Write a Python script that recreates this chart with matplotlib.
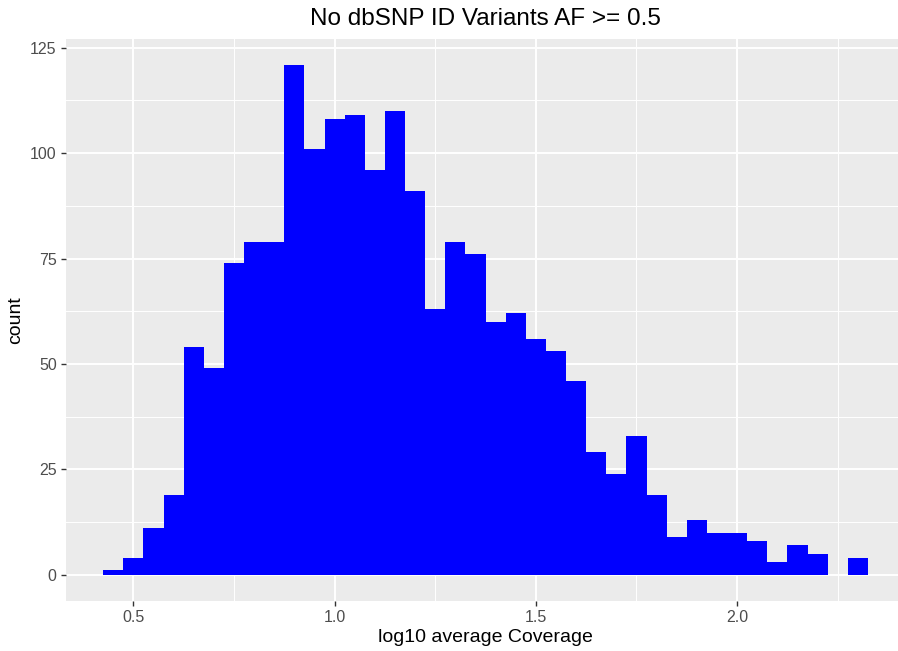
import matplotlib
matplotlib.use("Agg")
import matplotlib.pyplot as plt
import numpy as np

plt.rcParams['font.family'] = ['Liberation Sans', 'DejaVu Sans']

# Histogram data (binwidth 0.05, first edge 0.425)
bin_start = 0.425
bin_width = 0.05
counts = [1, 4, 11, 19, 54, 49, 74, 79, 79, 121, 101, 108, 109, 96, 110, 91,
          63, 79, 76, 60, 62, 56, 53, 46, 29, 24, 33, 19, 9, 13, 10, 10, 8, 3,
          7, 5, 0, 4]
x_ticks = [0.5, 1.0, 1.5, 2.0]
x_tick_labels = ["0.5", "1.0", "1.5", "2.0"]
y_ticks = [0, 25, 50, 75, 100, 125]
title = "No dbSNP ID Variants AF >= 0.5"
xlabel = "log10 average Coverage"
ylabel = "count"

W, H = 898, 651
fig = plt.figure(figsize=(W / 100, H / 100), dpi=100)
left, right, top, bottom = 65.7, 898, 38.5, 600.7
ax = fig.add_axes([left / W, 1 - bottom / H, (right - left) / W, (bottom - top) / H])

edges = bin_start + bin_width * np.arange(len(counts) + 1)
ax.bar(edges[:-1], counts, width=bin_width, align='edge', color='#0000FF',
       linewidth=0, zorder=3)

ax.set_facecolor('#EBEBEB')
for s in ax.spines.values():
    s.set_visible(False)

ax.set_xticks(x_ticks)
ax.set_xticklabels(x_tick_labels)
ax.set_yticks(y_ticks)
ax.set_xticks([0.75, 1.25, 1.75, 2.25], minor=True)
ax.set_yticks([12.5, 37.5, 62.5, 87.5, 112.5], minor=True)

ax.set_xlim(0.332, 0.332 + (right - left) / 402.5)
ax.set_ylim(-6.17, 127.2)

ax.grid(which='major', color='white', linewidth=1.4, zorder=1)
ax.grid(which='minor', color='white', linewidth=0.7, zorder=1)
ax.set_axisbelow(True)

ax.tick_params(which='major', length=3.5, width=1.0, color='#333333',
               labelcolor='#4D4D4D', labelsize=11.5, pad=3)
ax.tick_params(which='minor', length=0)

fig.text((65.7 + 906) / 2 / W, 1 - 19 / H, title, ha='center', va='center',
         fontsize=17.5, color='black')
fig.text(485 / W, 1 - 637 / H, xlabel, ha='center', va='center',
         fontsize=14, color='black')
fig.text(16 / W, 1 - 320 / H, ylabel, ha='center', va='center',
         rotation=90, fontsize=14, color='black')

fig.savefig("out.png", dpi=100)
